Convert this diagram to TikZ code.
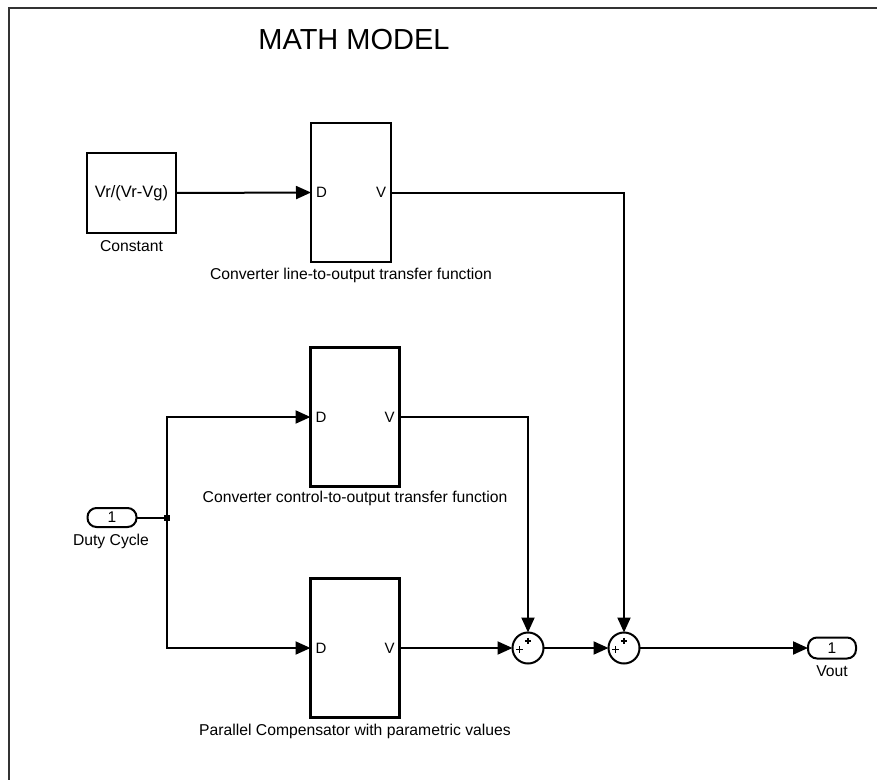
\documentclass[tikz,border=0pt]{standalone}
\usepackage{fontspec}
\setmainfont{Liberation Sans}
\usetikzlibrary{arrows.meta}
\begin{document}
\begin{tikzpicture}[x=1pt,y=-1pt,
  every node/.style={inner sep=0pt,outer sep=0pt},
  wire/.style={line width=2pt,black},
  sig/.style={wire,-{Triangle[length=15pt,width=13pt]}},
  subsys/.style={draw,line width=2.3pt,rectangle,minimum width=#1,minimum height=139pt},
  constbox/.style={draw,line width=2.3pt,rectangle,minimum width=89pt,minimum height=80pt,font=\fontsize{16.5}{18}\selectfont},
  port/.style={draw,line width=2pt,rounded corners=9pt,minimum width=49pt,minimum height=19pt,font=\fontsize{15.5}{17}\selectfont},
  sumnode/.style={draw,line width=2pt,circle,minimum size=31pt},
  lbl/.style={font=\fontsize{15.7}{17}\selectfont},
  plbl/.style={font=\fontsize{15}{16}\selectfont}
]
\useasboundingbox (0,0) rectangle (877,779);
% outer frame (only the left and top edges fall inside the page)
\draw[line width=1.6pt,black!80] (9,790) -- (9,8) -- (890,8);

% title
\node[font=\fontsize{29}{32}\selectfont] (title) at (354,40) {MATH MODEL};

% source blocks
\node[constbox] (const) at (131.5,193) {Vr/(Vr-Vg)};
\node[lbl] (constlbl) at (131.5,246) {Constant};
\node[port] (duty) at (112,517.5) {1};
\node[lbl] (dutylbl) at (111,541) {Duty Cycle};
\coordinate (jct) at (167,517.5);
\fill (jct) ++(-3,-3) rectangle ++(6,6);

% transfer-function subsystems
\node[subsys=80pt] (b1) at (351,192.5) {};
\node[plbl,anchor=west] (b1d) at ([xshift=5pt]b1.west) {D};
\node[plbl,anchor=east] (b1v) at ([xshift=-5pt]b1.east) {V};
\node[lbl] (b1lbl) at (351,275) {Converter line-to-output transfer function};

\node[subsys=89pt] (b2) at (355,417) {};
\node[plbl,anchor=west] (b2d) at ([xshift=5pt]b2.west) {D};
\node[plbl,anchor=east] (b2v) at ([xshift=-5pt]b2.east) {V};
\node[lbl] (b2lbl) at (355,498) {Converter control-to-output transfer function};

\node[subsys=89pt] (b3) at (355,648) {};
\node[plbl,anchor=west] (b3d) at ([xshift=5pt]b3.west) {D};
\node[plbl,anchor=east] (b3v) at ([xshift=-5pt]b3.east) {V};
\node[lbl] (b3lbl) at (355,731) {Parallel Compensator with parametric values};

% summing junctions, each with a "+" on its left and top inputs
\node[sumnode] (sum1) at (528,648) {};
\node[sumnode] (sum2) at (624,648) {};
\foreach \s in {sum1,sum2}{
  \draw[line width=1.2pt] ([xshift=-8.5pt,yshift=-1.5pt]\s.center) ++(-3.2,0) -- ++(6.4,0) ++(-3.2,-3.2) -- ++(0,6.4);
  \draw[line width=1.2pt] ([yshift=7pt]\s.center) ++(-3.2,0) -- ++(6.4,0) ++(-3.2,-3.2) -- ++(0,6.4);
}

% output port
\node[port,minimum width=48pt,minimum height=21pt] (vout) at (832,648) {1};
\node[lbl] (voutlbl) at (832,671) {Vout};

% signal lines
\draw[sig] (const.east) -- (b1.west);
\draw[wire] (duty.east) -- (jct);
\draw[sig] (jct) |- (b2.west);
\draw[sig] (jct) |- (b3.west);
\draw[sig] (b1.east) -| (sum2.north);
\draw[sig] (b2.east) -| (sum1.north);
\draw[sig] (b3.east) -- (sum1.west);
\draw[sig] (sum1.east) -- (sum2.west);
\draw[sig] (sum2.east) -- (vout.west);
\end{tikzpicture}
\end{document}
